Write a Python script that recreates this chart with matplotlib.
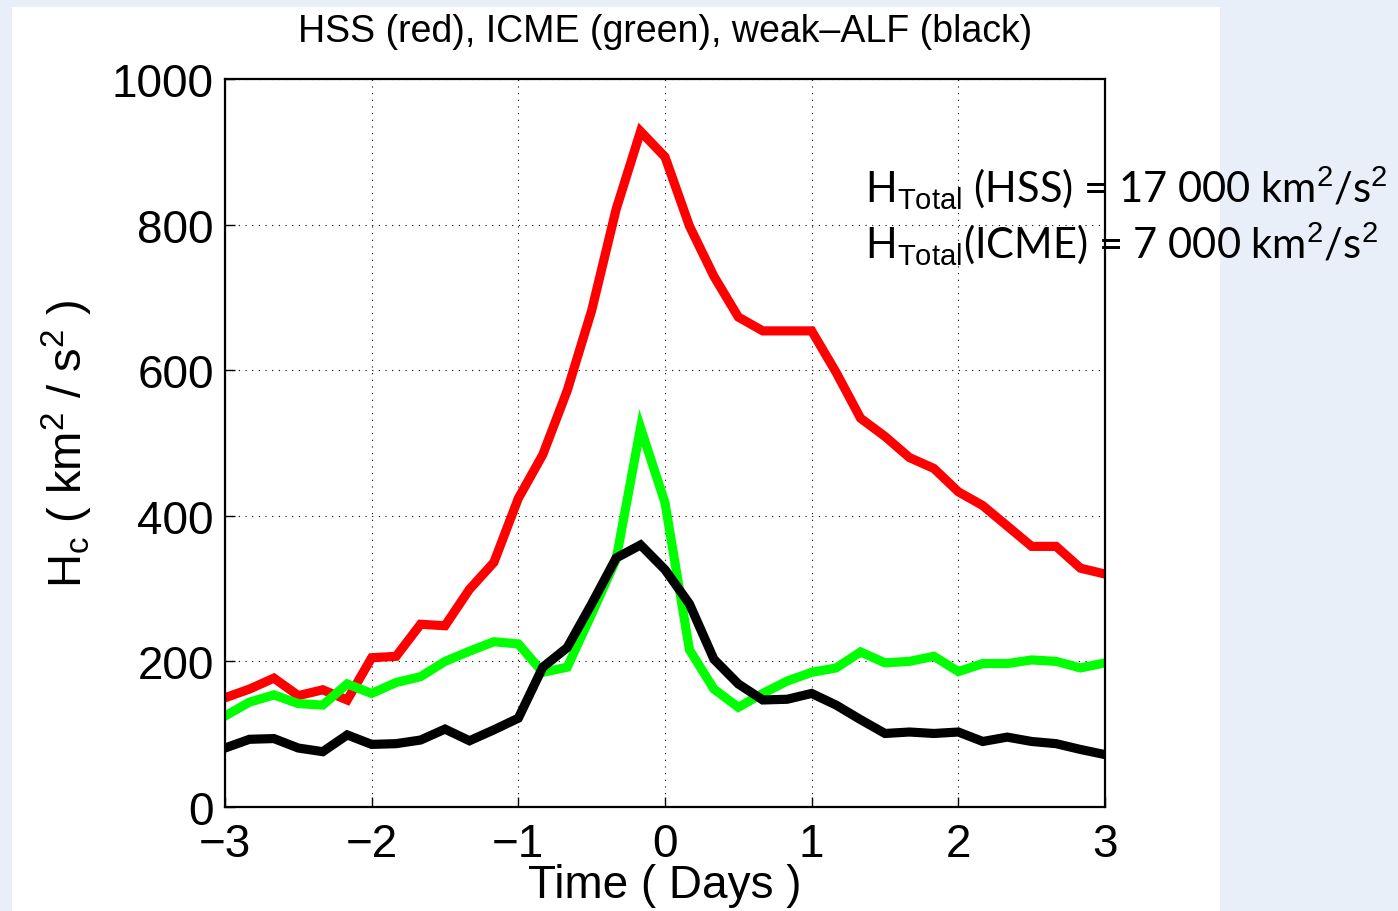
import matplotlib
matplotlib.use("Agg")
import matplotlib.pyplot as plt
from matplotlib.patches import Rectangle

#### data, every 1/6 day from -3 to +3

days = [i / 6.0 for i in range(-18, 19)]

hss = [150, 162, 177, 153, 161, 147, 205, 207, 251, 249, 299, 336, 424, 484,
       572, 682, 821, 928, 893, 798, 729, 673, 654, 654, 654, 597, 534, 509,
       480, 465, 433, 414, 386, 358, 358, 328, 320]

icme = [125, 144, 154, 142, 140, 169, 156, 171, 179, 200, 214, 227, 224, 185,
        192, 265, 340, 521, 418, 216, 162, 137, 156, 173, 185, 191, 213, 198,
        200, 207, 186, 197, 197, 202, 200, 191, 198]

weak_alf = [81, 93, 94, 81, 76, 99, 86, 87, 92, 107, 91, 106, 122, 192,
            219, 279, 342, 360, 326, 279, 203, 169, 147, 148, 156, 140, 120, 101,
            103, 101, 103, 90, 96, 90, 87, 79, 72]

x_ticks = [-3, -2, -1, 0, 1, 2, 3]
y_ticks = [0, 200, 400, 600, 800, 1000]

plt.rcParams['font.family'] = ['Liberation Sans', 'DejaVu Sans']
plt.rcParams['mathtext.fontset'] = 'custom'
plt.rcParams['mathtext.rm'] = 'Liberation Sans'
plt.rcParams['mathtext.it'] = 'Liberation Sans'

fig = plt.figure(figsize=(13.98, 9.12), dpi=100)
fig.patch.set_facecolor('#e9eff8')
# white slide panel behind the chart
fig.patches.append(Rectangle((12 / 1398, 0), 1208 / 1398, 904 / 912,
                             transform=fig.transFigure, facecolor='white',
                             edgecolor='none', zorder=-5))

ax = fig.add_axes([225 / 1398, 104 / 912, 880 / 1398, 728 / 912])
ax.set_zorder(2)
ax.plot(days, hss, color='#ff0000', lw=6.6, solid_joinstyle='miter')
ax.plot(days, icme, color='#00ff00', lw=6.6, solid_joinstyle='miter')
ax.plot(days, weak_alf, color='black', lw=6.6, solid_joinstyle='miter')

ax.set_xlim(-3, 3)
ax.set_ylim(0, 1000)
ax.set_xticks(x_ticks)
ax.set_yticks(y_ticks)
ax.set_xticklabels([f"{t:d}".replace('-', '\u2212') for t in x_ticks])
ax.grid(True, color='black', linestyle=(0, (1, 5)), linewidth=0.8)
ax.tick_params(direction='in', length=7, width=1, labelsize=33,
               top=False, right=False)
ax.tick_params(axis='y', pad=8)
ax.tick_params(axis='x', pad=11)
for s in ax.spines.values():
    s.set_linewidth(1.6)

ax.set_xlabel('Time ( Days )', fontsize=33, labelpad=-2)
ax.set_ylabel(r'H$_{\mathrm{c}}$ ( km$^{\mathrm{2}}$ / s$^{\mathrm{2}}$ )',
              fontsize=34, labelpad=12)

fig.text(665 / 1398, 1 - 32 / 912, 'HSS (red), ICME (green), weak\u2013ALF (black)',
         ha='center', va='center', fontsize=27)

note_font = {'family': ['Lato', 'DejaVu Sans'], 'fontsize': 30}
fig.text(865 / 1398, 1 - 203 / 912, 'H$_{\\mathrm{Total}}$ (HSS) = 17 000 km$^{\\mathrm{2}}$/s$^{\\mathrm{2}}$',
         ha='left', va='baseline', zorder=5, **note_font)
fig.text(865 / 1398, 1 - 259 / 912, 'H$_{\\mathrm{Total}}$(ICME) = 7 000 km$^{\\mathrm{2}}$/s$^{\\mathrm{2}}$',
         ha='left', va='baseline', zorder=5, **note_font)

fig.savefig('out.png', dpi=100)
